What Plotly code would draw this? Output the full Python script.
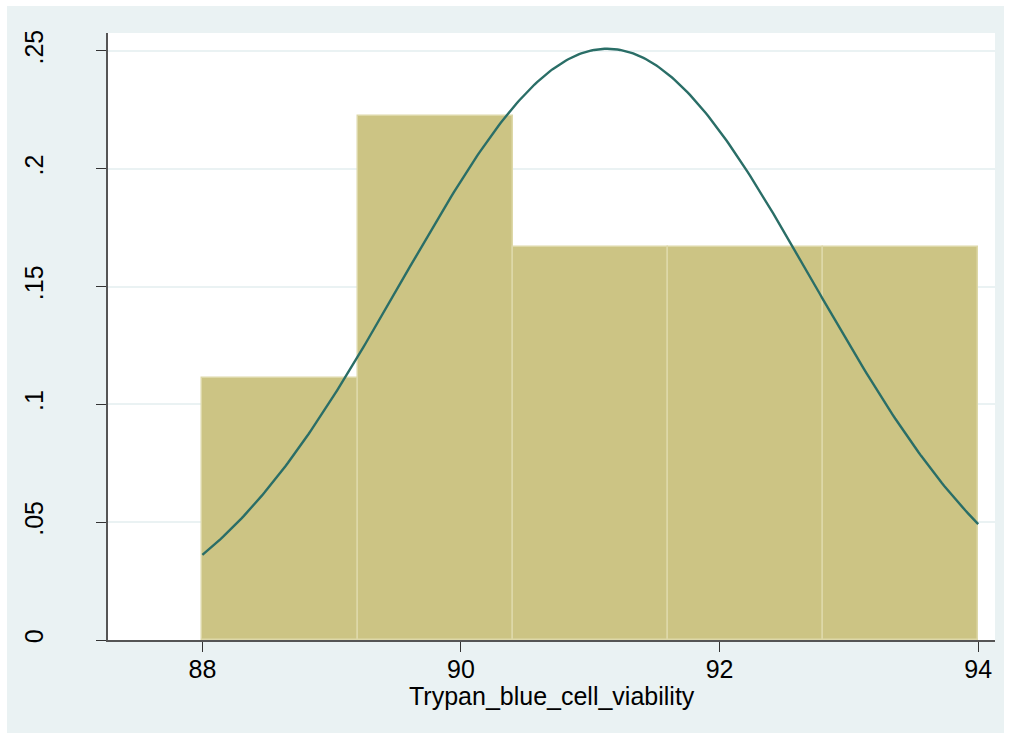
import numpy as np
import plotly.graph_objects as go

# Histogram data (density scale)
bin_edges = [88.0, 89.2, 90.4, 91.6, 92.8, 94.0]
densities = [0.1111, 0.2222, 0.1667, 0.1667, 0.1667]

# Normal density overlay parameters
norm_mean = 91.13
norm_sd = 1.59

y_tick_vals = [0, 0.05, 0.1, 0.15, 0.2, 0.25]
y_tick_text = ["0", ".05", ".1", ".15", ".2", ".25"]
x_tick_vals = [88, 90, 92, 94]
x_title = "Trypan_blue_cell_viability"

centers = [(a + b) / 2 for a, b in zip(bin_edges[:-1], bin_edges[1:])]
widths = [b - a for a, b in zip(bin_edges[:-1], bin_edges[1:])]

xs = np.linspace(bin_edges[0], bin_edges[-1], 300)
ys = np.exp(-0.5 * ((xs - norm_mean) / norm_sd) ** 2) / (norm_sd * np.sqrt(2 * np.pi))

BG = "#EAF2F3"
FONT = "Arial, 'Liberation Sans', Helvetica, sans-serif"

fig = go.Figure()
fig.add_trace(go.Bar(
    x=centers, y=densities, width=widths,
    marker=dict(color="#CCC484", line=dict(color="#DDD8A8", width=1.5)),
    showlegend=False, hoverinfo="skip",
))
fig.add_trace(go.Scatter(
    x=xs, y=ys, mode="lines",
    line=dict(color="#2A6E67", width=2.4),
    showlegend=False, hoverinfo="skip",
))

W, H = 1011, 734
ml, mr, mt, mb = 108, 16, 33, 94
pw = W - ml - mr
ph = H - mt - mb

def px_x(p):
    return (p - ml) / pw

def px_y(p):
    return (H - mb - p) / ph

fig.add_shape(type="rect", xref="paper", yref="paper",
              x0=px_x(7), x1=px_x(1004), y0=px_y(733), y1=px_y(6),
              fillcolor=BG, line=dict(width=0), layer="below")
fig.add_shape(type="rect", xref="paper", yref="paper",
              x0=0, x1=1, y0=0, y1=1,
              fillcolor="white", line=dict(width=0), layer="below")

fig.add_annotation(text=x_title, xref="paper", yref="paper",
                   x=0.5, y=px_y(696), xanchor="center", yanchor="middle",
                   showarrow=False, font=dict(size=25, color="black"))

fig.update_layout(
    width=W, height=H,
    margin=dict(l=ml, r=mr, t=mt, b=mb, pad=0),
    paper_bgcolor="white", plot_bgcolor="white",
    font=dict(family=FONT, size=24, color="black"),
    bargap=0,
)
fig.update_xaxes(
    range=[87.27, 94.13], tickvals=x_tick_vals,
    ticks="outside", ticklen=10, tickwidth=1.2, tickcolor="#333333",
    showline=True, linecolor="#555555", linewidth=2,
    showgrid=False, zeroline=False,
    tickfont=dict(size=25), ticklabelstandoff=-4,
)
fig.update_yaxes(
    range=[0, 0.2576], tickvals=y_tick_vals, ticktext=y_tick_text,
    ticks="outside", ticklen=10, tickwidth=1.2, tickcolor="#333333",
    showline=True, linecolor="#555555", linewidth=2,
    showgrid=True, gridcolor=BG, gridwidth=2,
    zeroline=False, tickangle=-90,
    tickfont=dict(size=25), ticklabelstandoff=43,
)

fig.write_html("out.html", config={"displayModeBar": False},
               post_script="document.body.style.margin='0';")
